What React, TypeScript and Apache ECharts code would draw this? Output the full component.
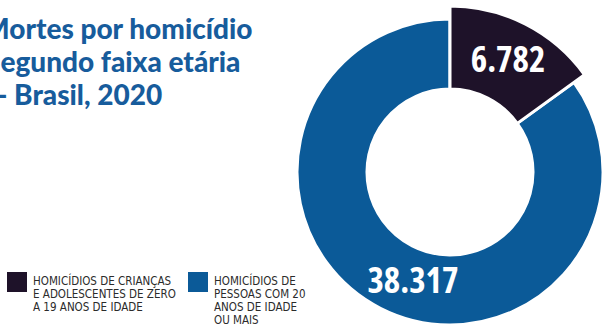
import React, { useEffect, useRef } from "react";
import * as echarts from "echarts";

const categories = [
  "HOMICÍDIOS DE CRIANÇAS\nE ADOLESCENTES DE ZERO\nA 19 ANOS DE IDADE",
  "HOMICÍDIOS DE\nPESSOAS COM 20\nANOS DE IDADE\nOU MAIS",
];
const values = [6782, 38317];
const colors = ["#1e1229", "#0b5a98"];
const titleLines = ["Mortes por homicídio", "Segundo faixa etária", "- Brasil, 2020"];

const fmt = (v: number) => String(v).replace(/\B(?=(\d{3})+(?!\d))/g, ".");

export default function App() {
  const ref = useRef<HTMLDivElement>(null);
  useEffect(() => {
    if (!ref.current) return;
    const chart = echarts.init(ref.current, null, { renderer: "svg" });
    const center = [450, 172];
    const labelBase = {
      show: true,
      position: "inside",
      color: "#ffffff",
      fontFamily: "'Open Sans';font-stretch:condensed",
      fontWeight: "bold",
      fontSize: 35,
      formatter: (p: any) => fmt(p.value),
    };
    const outerData = values.map((v, i) => ({
      name: categories[i],
      value: v,
      itemStyle:
        i === 1
          ? { color: colors[1], borderColor: "#ffffff", borderWidth: 3 }
          : { color: "transparent", borderWidth: 0 },
      label: i === 1 ? { ...labelBase, padding: [0, 0, 0, 36] } : { show: false },
    }));
    const darkData = values.map((v, i) => ({
      name: categories[i],
      value: v,
      itemStyle:
        i === 0
          ? { color: colors[0], borderColor: "#ffffff", borderWidth: 3 }
          : { color: "transparent", borderWidth: 0 },
      label: i === 0 ? { ...labelBase } : { show: false },
    }));
    const graphics: any[] = [];
    const titleLeft = [-17, -15, -3];
    titleLines.forEach((t, i) => {
      graphics.push({
        type: "text",
        left: titleLeft[i],
        top: 11 + i * 33,
        style: {
          text: t,
          fill: "#175c9c",
          font: "900 28px 'Lato'",
          lineHeight: 33,
        },
      });
    });
    const legendX = [7, 188];
    categories.forEach((c, i) => {
      graphics.push({
        type: "rect",
        left: legendX[i],
        top: 272,
        shape: { width: 20, height: 20 },
        style: { fill: colors[i] },
      });
      graphics.push({
        type: "text",
        left: legendX[i] + 26,
        top: 274,
        style: {
          text: c,
          fill: "#2b2b2b",
          font: "11.5px 'DejaVu Sans Condensed'",
          lineHeight: 13,
        },
      });
    });
    chart.setOption({
      animation: false,
      series: [
        {
          type: "pie",
          silent: true,
          center,
          radius: [83, 153],
          startAngle: 90,
          clockwise: true,
          labelLine: { show: false },
          data: outerData,
        },
        {
          type: "pie",
          silent: true,
          center,
          radius: [83, 166],
          startAngle: 90,
          clockwise: true,
          labelLine: { show: false },
          data: darkData,
        },
      ],
      graphic: graphics,
    });
    return () => chart.dispose();
  }, []);
  return (
    <div
      ref={ref}
      style={{ position: "fixed", left: 0, top: 0, width: 603, height: 328, background: "#ffffff" }}
    />
  );
}
